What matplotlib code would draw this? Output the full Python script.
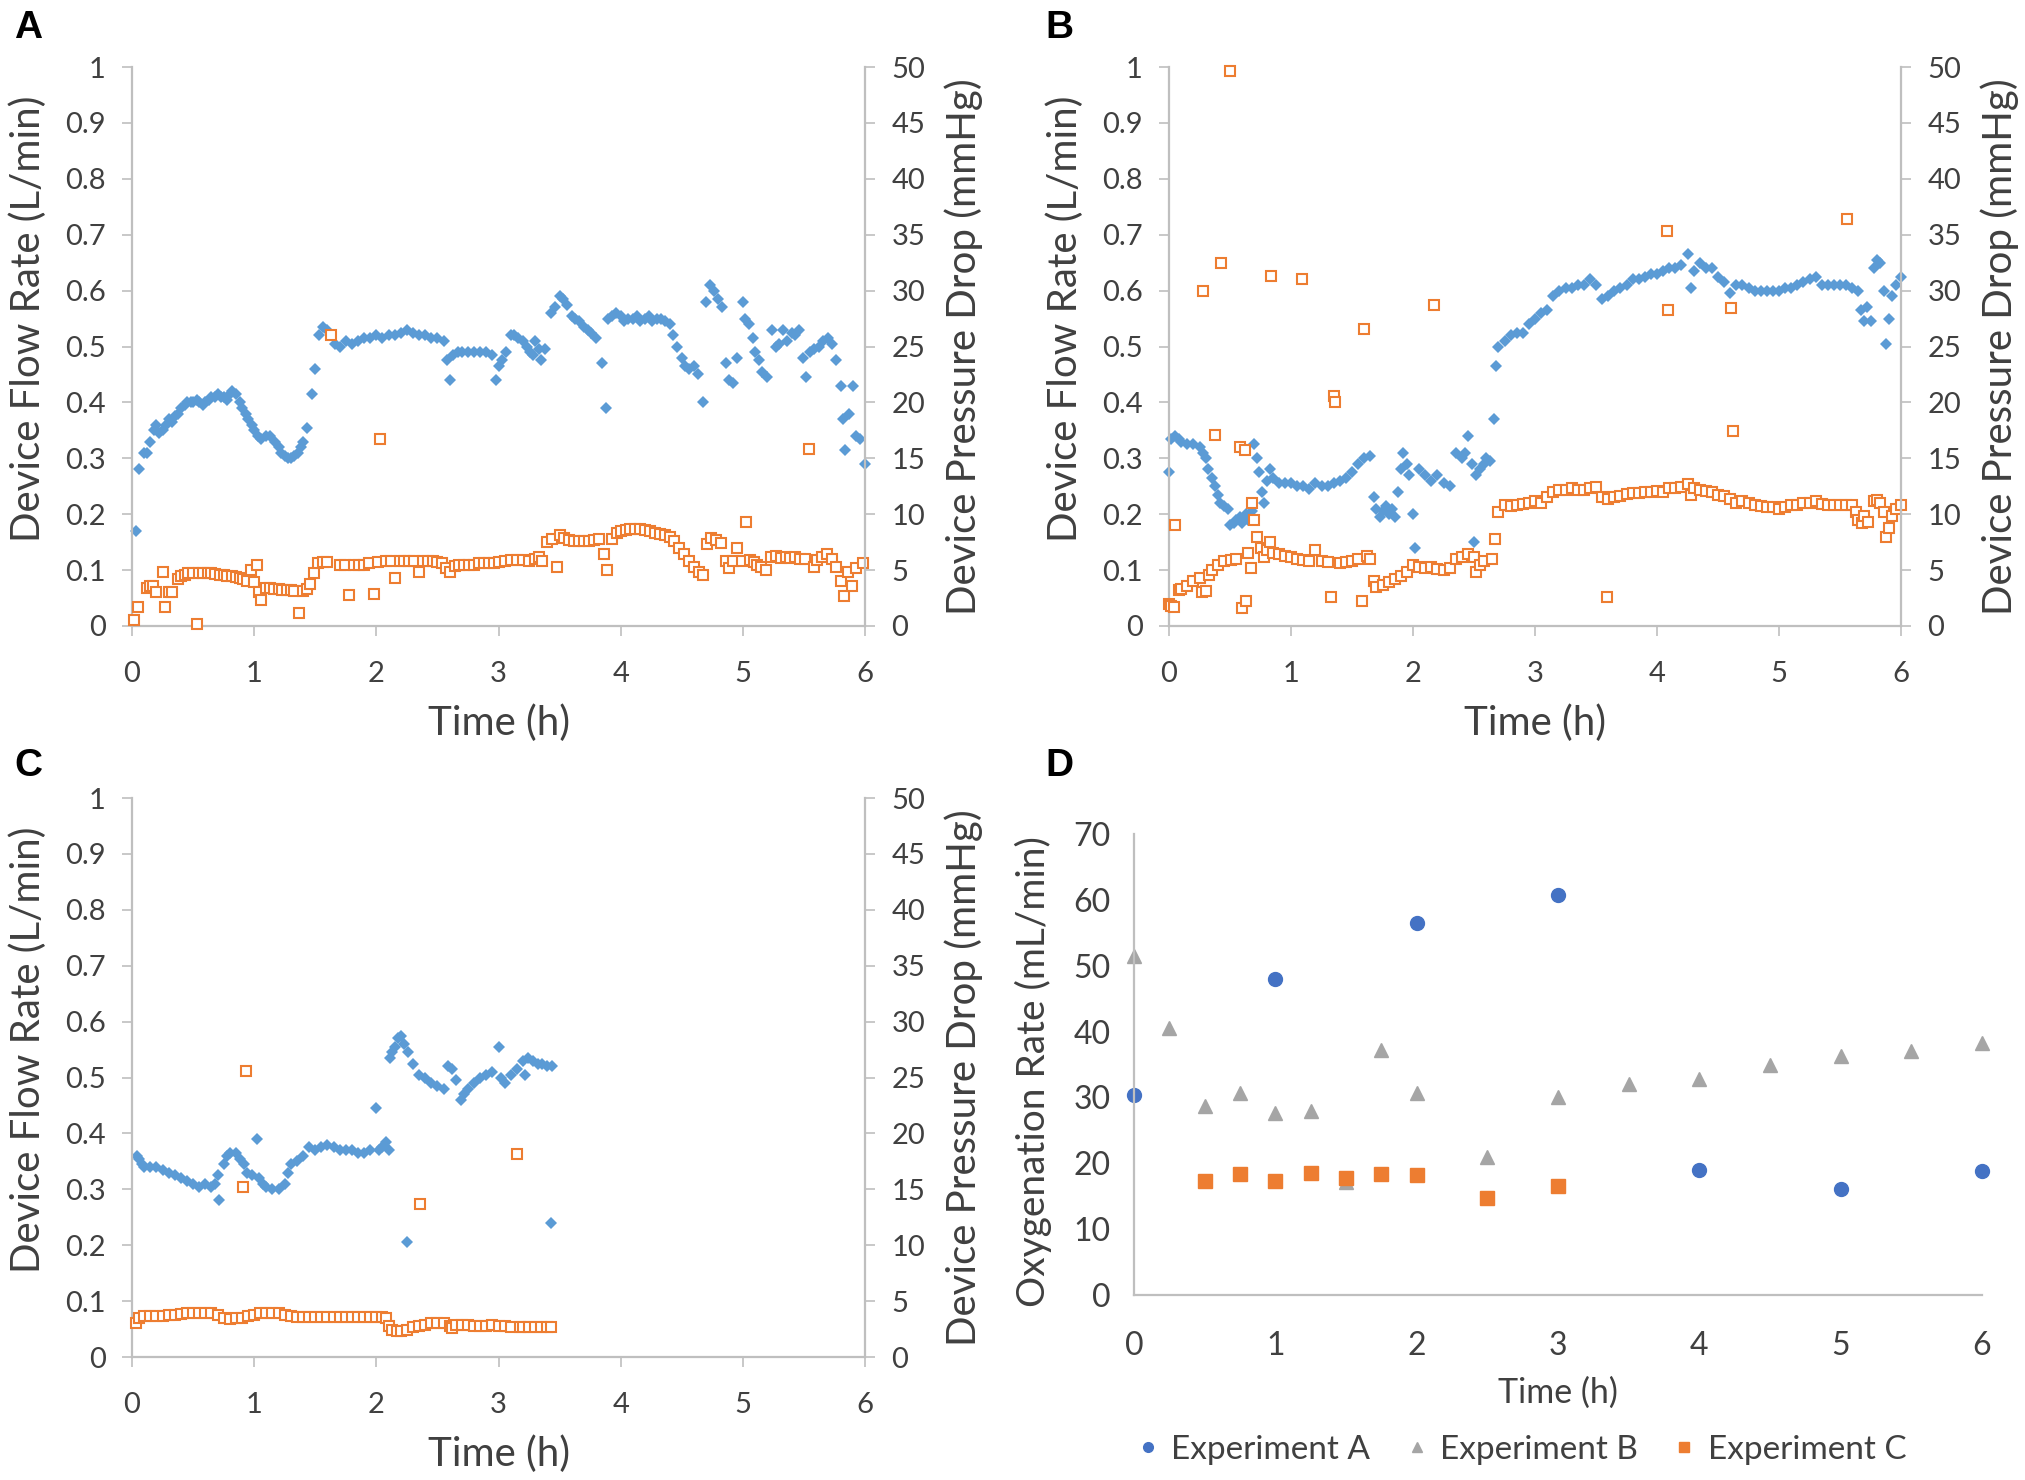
import numpy as np
import matplotlib.pyplot as plt

plt.rcParams['font.family'] = ['Lato', 'DejaVu Sans']

# ---- data: (time h, value) ----
# panel A
a_flow = [(0.03,0.17),(0.06,0.28),(0.10,0.31),(0.12,0.31),(0.15,0.33),(0.18,0.35),(0.20,0.36),(0.22,0.345),(0.25,0.35),(0.28,0.36),
          (0.30,0.37),(0.33,0.365),(0.35,0.375),(0.38,0.38),(0.40,0.39),(0.43,0.395),(0.45,0.40),(0.48,0.40),(0.50,0.40),(0.53,0.405),
          (0.55,0.40),(0.58,0.395),(0.60,0.40),(0.63,0.405),(0.65,0.41),(0.68,0.41),(0.70,0.415),(0.73,0.41),(0.75,0.41),(0.78,0.405),
          (0.80,0.415),(0.82,0.42),(0.85,0.415),(0.88,0.40),(0.90,0.39),(0.93,0.38),(0.95,0.37),(0.98,0.36),(1.00,0.35),(1.03,0.34),
          (1.06,0.335),(1.10,0.34),(1.13,0.34),(1.17,0.33),(1.20,0.32),(1.22,0.31),(1.25,0.305),(1.28,0.30),(1.30,0.30),(1.33,0.305),
          (1.36,0.31),(1.38,0.32),(1.40,0.33),(1.43,0.355),(1.47,0.415),(1.50,0.46),(1.53,0.52),(1.56,0.535),(1.60,0.53),(1.63,0.52),
          (1.66,0.505),(1.70,0.50),(1.75,0.51),(1.80,0.505),(1.85,0.51),(1.90,0.515),(1.95,0.515),(2.00,0.52),(2.05,0.515),(2.10,0.52),
          (2.15,0.52),(2.20,0.525),(2.25,0.53),(2.30,0.525),(2.35,0.52),(2.40,0.52),(2.45,0.515),(2.50,0.515),(2.55,0.51),(2.58,0.475),
          (2.60,0.44),(2.63,0.485),(2.67,0.49),(2.70,0.49),(2.75,0.49),(2.80,0.49),(2.85,0.49),(2.90,0.49),(2.95,0.485),(2.98,0.44),
          (3.00,0.465),(3.03,0.475),(3.06,0.49),(3.10,0.52),(3.13,0.52),(3.16,0.515),(3.20,0.51),(3.23,0.50),(3.26,0.49),(3.28,0.485),
          (3.30,0.51),(3.33,0.495),(3.35,0.475),(3.38,0.495),(3.43,0.56),(3.46,0.57),(3.50,0.59),(3.53,0.585),(3.56,0.575),(3.60,0.555),
          (3.63,0.55),(3.66,0.545),(3.70,0.535),(3.73,0.53),(3.76,0.525),(3.80,0.515),(3.85,0.47),(3.88,0.39),(3.90,0.55),(3.93,0.555),
          (3.96,0.56),(4.00,0.555),(4.03,0.545),(4.06,0.55),(4.10,0.55),(4.13,0.555),(4.16,0.545),(4.20,0.55),(4.23,0.555),(4.26,0.545),
          (4.30,0.55),(4.33,0.55),(4.36,0.545),(4.40,0.54),(4.43,0.52),(4.46,0.50),(4.50,0.48),(4.53,0.465),(4.56,0.46),(4.60,0.465),
          (4.63,0.45),(4.67,0.40),(4.70,0.58),(4.73,0.61),(4.76,0.60),(4.80,0.585),(4.83,0.57),(4.86,0.47),(4.89,0.44),(4.92,0.435),
          (4.95,0.48),(5.00,0.58),(5.02,0.55),(5.05,0.54),(5.08,0.515),(5.10,0.49),(5.13,0.475),(5.16,0.455),(5.20,0.445),(5.24,0.53),
          (5.27,0.50),(5.30,0.505),(5.33,0.53),(5.36,0.51),(5.40,0.525),(5.43,0.52),(5.46,0.53),(5.49,0.48),(5.52,0.445),(5.55,0.49),
          (5.58,0.495),(5.62,0.50),(5.66,0.51),(5.70,0.515),(5.73,0.505),(5.76,0.475),(5.80,0.43),(5.82,0.37),(5.84,0.315),(5.87,0.38),
          (5.90,0.43),(5.93,0.34),(5.96,0.335),(6.00,0.29)]
a_press = [(0.02,0.5),(0.05,1.7),(0.12,3.4),(0.15,3.6),(0.17,3.6),(0.20,3.0),(0.25,4.8),(0.27,1.7),(0.30,3.0),(0.33,3.0),
           (0.38,4.2),(0.40,4.5),(0.43,4.6),(0.46,4.7),(0.50,4.7),(0.53,0.2),(0.55,4.7),(0.58,4.7),(0.62,4.7),(0.65,4.7),
           (0.68,4.65),(0.72,4.6),(0.75,4.6),(0.78,4.5),(0.82,4.45),(0.85,4.4),(0.88,4.3),(0.91,4.2),(0.94,4.0),(0.97,5.0),
           (1.00,3.9),(1.02,5.5),(1.04,3.0),(1.06,2.3),(1.10,3.4),(1.13,3.4),(1.16,3.35),(1.20,3.3),(1.23,3.25),(1.27,3.2),
           (1.30,3.2),(1.33,3.15),(1.37,1.2),(1.40,3.1),(1.43,3.3),(1.46,3.8),(1.49,4.7),(1.52,5.6),(1.56,5.7),(1.60,5.7),
           (1.63,26.0),(1.70,5.5),(1.74,5.5),(1.78,2.8),(1.82,5.5),(1.86,5.5),(1.90,5.5),(1.94,5.6),(1.98,2.9),(2.01,5.7),
           (2.03,16.7),(2.08,5.8),(2.12,5.8),(2.15,4.3),(2.19,5.8),(2.23,5.8),(2.27,5.8),(2.31,5.8),(2.35,4.8),(2.38,5.8),
           (2.42,5.8),(2.46,5.8),(2.50,5.7),(2.54,5.6),(2.57,5.2),(2.60,4.8),(2.64,5.4),(2.68,5.5),(2.72,5.5),(2.76,5.5),
           (2.80,5.5),(2.84,5.6),(2.88,5.6),(2.92,5.6),(2.96,5.6),(3.00,5.7),(3.05,5.8),(3.10,5.9),(3.15,5.9),(3.20,5.9),
           (3.25,5.8),(3.30,6.0),(3.33,6.2),(3.36,5.8),(3.40,7.5),(3.44,7.8),(3.48,5.3),(3.50,8.1),(3.54,7.9),(3.58,7.7),
           (3.62,7.6),(3.66,7.6),(3.70,7.6),(3.74,7.6),(3.78,7.7),(3.82,7.8),(3.86,6.4),(3.89,5.0),(3.93,7.8),(3.97,8.3),
           (4.00,8.5),(4.04,8.6),(4.08,8.7),(4.12,8.7),(4.16,8.7),(4.20,8.6),(4.24,8.5),(4.28,8.3),(4.32,8.2),(4.36,8.1),
           (4.40,8.0),(4.44,7.6),(4.48,7.0),(4.52,6.4),(4.56,5.8),(4.60,5.3),(4.64,4.8),(4.67,4.6),(4.71,7.3),(4.74,7.9),
           (4.78,7.7),(4.82,7.4),(4.86,5.8),(4.89,5.2),(4.92,5.8),(4.95,7.0),(4.99,5.8),(5.03,9.3),(5.06,5.9),(5.09,5.7),
           (5.12,5.5),(5.15,5.3),(5.19,5.0),(5.23,6.2),(5.27,6.3),(5.31,6.1),(5.35,6.2),(5.39,6.1),(5.43,6.2),(5.47,6.0),
           (5.51,6.0),(5.54,15.8),(5.58,5.3),(5.61,5.9),(5.65,6.2),(5.69,6.4),(5.73,6.0),(5.76,5.3),(5.80,4.0),(5.83,2.7),
           (5.86,4.8),(5.89,3.6),(5.93,5.2),(5.98,5.6)]

# panel B
b_flow = [(0.00,0.275),(0.02,0.335),(0.05,0.34),(0.08,0.335),(0.10,0.33),(0.15,0.325),(0.20,0.325),(0.25,0.32),(0.28,0.31),(0.30,0.30),
          (0.32,0.28),(0.35,0.265),(0.38,0.25),(0.40,0.235),(0.42,0.22),(0.45,0.215),(0.48,0.21),(0.50,0.18),(0.53,0.185),(0.55,0.19),
          (0.58,0.195),(0.60,0.185),(0.63,0.20),(0.65,0.19),(0.68,0.205),(0.70,0.325),(0.72,0.30),(0.74,0.275),(0.76,0.24),(0.78,0.22),
          (0.80,0.26),(0.83,0.28),(0.85,0.265),(0.90,0.255),(0.95,0.255),(1.00,0.255),(1.05,0.25),(1.10,0.25),(1.15,0.245),(1.20,0.255),
          (1.25,0.25),(1.30,0.25),(1.35,0.255),(1.40,0.26),(1.45,0.265),(1.50,0.275),(1.55,0.29),(1.60,0.30),(1.65,0.305),(1.68,0.23),
          (1.70,0.21),(1.73,0.195),(1.75,0.205),(1.78,0.215),(1.80,0.20),(1.83,0.21),(1.85,0.195),(1.88,0.24),(1.90,0.28),(1.92,0.31),
          (1.95,0.29),(1.97,0.27),(2.00,0.20),(2.02,0.14),(2.05,0.28),(2.10,0.27),(2.15,0.26),(2.20,0.27),(2.25,0.255),(2.30,0.25),
          (2.35,0.31),(2.40,0.30),(2.43,0.31),(2.45,0.34),(2.48,0.29),(2.50,0.15),(2.52,0.27),(2.55,0.28),(2.58,0.29),(2.60,0.30),
          (2.63,0.295),(2.66,0.37),(2.68,0.465),(2.70,0.50),(2.75,0.51),(2.80,0.52),(2.85,0.525),(2.90,0.525),(2.95,0.54),(3.00,0.55),
          (3.05,0.56),(3.10,0.565),(3.15,0.59),(3.20,0.60),(3.25,0.605),(3.30,0.605),(3.35,0.61),(3.40,0.61),(3.45,0.62),(3.50,0.61),
          (3.55,0.585),(3.60,0.59),(3.65,0.60),(3.70,0.605),(3.75,0.61),(3.80,0.62),(3.85,0.62),(3.90,0.625),(3.95,0.63),(4.00,0.63),
          (4.05,0.635),(4.10,0.64),(4.15,0.64),(4.20,0.645),(4.25,0.665),(4.28,0.605),(4.30,0.635),(4.35,0.65),(4.40,0.64),(4.45,0.64),
          (4.50,0.625),(4.55,0.615),(4.60,0.595),(4.65,0.61),(4.70,0.61),(4.75,0.605),(4.80,0.60),(4.85,0.60),(4.90,0.60),(4.95,0.60),
          (5.00,0.60),(5.05,0.605),(5.10,0.605),(5.15,0.61),(5.20,0.615),(5.25,0.62),(5.30,0.625),(5.35,0.61),(5.40,0.61),(5.45,0.61),
          (5.50,0.61),(5.55,0.61),(5.60,0.605),(5.65,0.60),(5.67,0.565),(5.70,0.545),(5.72,0.57),(5.75,0.545),(5.78,0.64),(5.80,0.655),
          (5.83,0.65),(5.86,0.60),(5.88,0.505),(5.90,0.55),(5.93,0.59),(5.96,0.61),(6.00,0.625)]
b_press = [(0.00,2.0),(0.02,1.8),(0.04,1.7),(0.05,9.0),(0.08,3.2),(0.10,3.3),(0.15,3.6),(0.20,4.0),(0.25,4.3),(0.27,3.0),
           (0.28,30.0),(0.30,3.1),(0.33,4.6),(0.35,5.0),(0.38,17.1),(0.40,5.5),(0.43,32.5),(0.45,5.8),(0.50,49.6),(0.51,5.9),
           (0.55,6.0),(0.58,16.0),(0.60,1.6),(0.62,15.7),(0.63,2.2),(0.65,6.5),(0.67,5.2),(0.68,11.0),(0.70,9.5),(0.72,8.0),
           (0.75,7.0),(0.78,6.2),(0.80,6.8),(0.83,7.5),(0.84,31.3),(0.85,6.5),(0.90,6.4),(0.95,6.3),(1.00,6.2),(1.05,6.0),
           (1.09,31.0),(1.10,5.9),(1.15,5.8),(1.20,6.8),(1.25,5.8),(1.30,5.7),(1.33,2.6),(1.35,20.6),(1.36,20.0),(1.40,5.6),
           (1.45,5.7),(1.50,5.8),(1.55,6.0),(1.58,2.2),(1.60,26.6),(1.62,6.3),(1.65,6.0),(1.68,4.0),(1.70,3.5),(1.75,3.7),
           (1.80,3.9),(1.85,4.2),(1.90,4.5),(1.95,4.8),(2.00,5.5),(2.05,5.3),(2.10,5.2),(2.15,5.3),(2.17,28.7),(2.20,5.1),
           (2.25,5.0),(2.30,5.2),(2.35,6.0),(2.40,6.2),(2.45,6.4),(2.50,6.2),(2.52,4.8),(2.55,5.5),(2.58,5.8),(2.65,6.0),
           (2.67,7.8),(2.70,10.2),(2.75,10.8),(2.80,10.7),(2.85,10.8),(2.90,10.9),(2.95,11.0),(3.00,11.2),(3.05,11.0),(3.10,11.5),
           (3.15,12.0),(3.20,12.2),(3.25,12.2),(3.30,12.3),(3.35,12.2),(3.40,12.2),(3.45,12.3),(3.50,12.4),(3.55,11.5),(3.59,2.6),
           (3.60,11.4),(3.65,11.5),(3.70,11.6),(3.75,11.8),(3.80,11.9),(3.85,11.9),(3.90,12.0),(3.95,12.0),(4.00,12.1),(4.05,12.0),
           (4.08,35.3),(4.09,28.3),(4.10,12.3),(4.15,12.3),(4.20,12.4),(4.25,12.7),(4.28,11.7),(4.30,12.3),(4.35,12.2),(4.40,12.1),
           (4.45,12.0),(4.50,11.7),(4.55,11.6),(4.60,11.4),(4.61,28.4),(4.62,17.4),(4.65,11.0),(4.70,11.2),(4.75,11.0),(4.80,10.8),
           (4.85,10.7),(4.90,10.6),(4.95,10.6),(5.00,10.5),(5.05,10.6),(5.10,10.8),(5.15,10.8),(5.20,11.0),(5.25,11.0),(5.30,11.2),
           (5.35,10.9),(5.40,10.8),(5.45,10.8),(5.50,10.8),(5.55,10.8),(5.56,36.4),(5.60,10.8),(5.63,10.2),(5.65,9.5),(5.68,9.2),
           (5.70,9.8),(5.73,9.3),(5.78,11.2),(5.80,11.3),(5.83,11.0),(5.86,10.2),(5.88,8.0),(5.90,8.8),(5.93,9.8),(5.96,10.5),
           (6.00,10.8)]

# panel C
c_flow = [(0.04,0.36),(0.06,0.355),(0.08,0.345),(0.10,0.34),(0.15,0.34),(0.20,0.34),(0.25,0.335),(0.30,0.33),(0.35,0.325),(0.40,0.32),
          (0.45,0.315),(0.50,0.31),(0.55,0.305),(0.60,0.31),(0.65,0.305),(0.68,0.31),(0.70,0.325),(0.71,0.28),(0.75,0.345),(0.78,0.36),
          (0.80,0.365),(0.85,0.365),(0.88,0.355),(0.92,0.345),(0.94,0.33),(0.98,0.325),(1.02,0.39),(1.04,0.32),(1.07,0.31),(1.10,0.305),
          (1.15,0.30),(1.20,0.30),(1.25,0.31),(1.28,0.33),(1.30,0.345),(1.35,0.35),(1.40,0.36),(1.45,0.375),(1.50,0.37),(1.55,0.375),
          (1.60,0.38),(1.65,0.375),(1.70,0.37),(1.75,0.37),(1.80,0.37),(1.85,0.365),(1.90,0.365),(1.95,0.37),(2.00,0.445),(2.02,0.37),
          (2.05,0.375),(2.08,0.385),(2.10,0.37),(2.11,0.535),(2.13,0.545),(2.15,0.555),(2.18,0.57),(2.20,0.575),(2.23,0.56),(2.25,0.205),
          (2.26,0.545),(2.30,0.525),(2.35,0.505),(2.40,0.50),(2.45,0.49),(2.50,0.485),(2.55,0.48),(2.59,0.52),(2.62,0.515),(2.65,0.495),
          (2.69,0.46),(2.72,0.47),(2.75,0.48),(2.80,0.49),(2.85,0.50),(2.90,0.505),(2.95,0.51),(3.00,0.555),(3.02,0.50),(3.05,0.49),
          (3.10,0.505),(3.15,0.515),(3.20,0.53),(3.22,0.505),(3.24,0.535),(3.28,0.53),(3.32,0.525),(3.36,0.525),(3.40,0.52),(3.43,0.24),
          (3.44,0.52)]
c_press = [(0.03,3.0),(0.06,3.5),(0.10,3.7),(0.15,3.7),(0.20,3.7),(0.25,3.7),(0.30,3.75),(0.35,3.8),(0.40,3.85),(0.45,3.9),
           (0.50,3.9),(0.55,3.95),(0.60,3.95),(0.65,3.9),(0.70,3.8),(0.75,3.5),(0.80,3.4),(0.85,3.45),(0.90,3.5),(0.91,15.2),
           (0.93,25.6),(0.95,3.7),(1.00,3.8),(1.05,3.9),(1.10,3.95),(1.15,3.95),(1.20,3.9),(1.25,3.8),(1.30,3.7),(1.35,3.6),
           (1.40,3.6),(1.45,3.6),(1.50,3.6),(1.55,3.55),(1.60,3.55),(1.65,3.55),(1.70,3.55),(1.75,3.55),(1.80,3.6),(1.85,3.6),
           (1.90,3.6),(1.95,3.6),(2.00,3.6),(2.05,3.6),(2.08,3.5),(2.10,2.8),(2.13,2.4),(2.17,2.3),(2.20,2.3),(2.25,2.4),
           (2.30,2.7),(2.35,2.8),(2.36,13.7),(2.40,2.9),(2.45,3.0),(2.50,3.0),(2.55,3.0),(2.60,2.8),(2.62,2.6),(2.65,2.9),
           (2.70,2.9),(2.75,2.85),(2.80,2.8),(2.85,2.8),(2.90,2.8),(2.95,2.85),(3.00,2.8),(3.05,2.75),(3.10,2.7),(3.15,18.2),
           (3.18,2.65),(3.20,2.7),(3.25,2.65),(3.30,2.65),(3.35,2.65),(3.40,2.65),(3.43,2.65)]

# panel D: oxygenation rate (mL/min)
d_exp_a = [(0, 30.3), (1, 48.0), (2, 56.5), (3, 60.8), (4, 19.0), (5, 16.1), (6, 18.8)]
d_exp_b = [(0, 51.5), (0.25, 40.5), (0.5, 28.7), (0.75, 30.6), (1, 27.7), (1.25, 28.0), (1.5, 17.2), (1.75, 37.2),
           (2, 30.6), (2.5, 21.0), (3, 30.0), (3.5, 32.0), (4, 32.8), (4.5, 35.0), (5, 36.3), (5.5, 37.0), (6, 38.2)]
d_exp_c = [(0.5, 17.3), (0.75, 18.4), (1, 17.3), (1.25, 18.5), (1.5, 17.7), (1.75, 18.3), (2, 18.2), (2.5, 14.8), (3, 16.5)]

flow_ticks = [0, 0.1, 0.2, 0.3, 0.4, 0.5, 0.6, 0.7, 0.8, 0.9, 1]
flow_labels = ['0', '0.1', '0.2', '0.3', '0.4', '0.5', '0.6', '0.7', '0.8', '0.9', '1']
press_ticks = [0, 5, 10, 15, 20, 25, 30, 35, 40, 45, 50]
oxy_ticks = [0, 10, 20, 30, 40, 50, 60, 70]
hours = [0, 1, 2, 3, 4, 5, 6]

BLUE = '#5B9BD5'
ORANGE = '#ED7D31'
GRAY = '#BFBFBF'
TXT = '#404040'

W, H = 2025, 1480
fig = plt.figure(figsize=(W / 100, H / 100), dpi=100)


def box(left, top, right, bottom):
    # pixel box -> figure fraction
    return [left / W, 1 - bottom / H, (right - left) / W, (bottom - top) / H]


def flow_panel(rect, flow, press):
    ax = fig.add_axes(rect)
    ax2 = ax.twinx()
    t, y = np.array(flow).T
    ax.plot(t, y, 'D', color=BLUE, ms=6.3, mew=0, clip_on=False)
    tp, yp = np.array(press).T
    ax2.plot(tp, yp, 's', mfc='white', mec=ORANGE, ms=6.5, mew=1.5, clip_on=False)

    ax.set_xlim(0, 6)
    ax.set_ylim(0, 1)
    ax2.set_ylim(0, 50)
    ax.set_xticks(hours)
    ax.set_yticks(flow_ticks)
    ax.set_yticklabels(flow_labels)
    ax2.set_yticks(press_ticks)

    for a in (ax, ax2):
        for s in a.spines.values():
            s.set_visible(False)
            s.set_color(GRAY)
            s.set_linewidth(1.6)
    ax.spines['left'].set_visible(True)
    ax.spines['bottom'].set_visible(True)
    ax2.spines['right'].set_visible(True)

    ax.tick_params(axis='y', direction='out', length=7, width=1.2, color=GRAY,
                   labelsize=21, labelcolor=TXT, pad=12)
    ax.tick_params(axis='x', direction='out', length=7, width=1.2, color=GRAY,
                   labelsize=21, labelcolor=TXT, pad=18)
    ax2.tick_params(axis='y', direction='out', length=7, width=1.2, color=GRAY,
                    labelsize=21, labelcolor=TXT, pad=12)

    ax.set_ylabel('Device Flow Rate (L/min)', fontsize=29, color=TXT, va='center')
    ax.yaxis.set_label_coords(-0.142, 0.55)
    ax2.set_ylabel('Device Pressure Drop (mmHg)', fontsize=29, color=TXT,
                   rotation=90, va='center')
    ax2.yaxis.set_label_coords(1.135, 0.5)
    ax.set_xlabel('Time (h)', fontsize=29, color=TXT)
    ax.xaxis.label.set_va('center')
    ax.xaxis.set_label_coords(0.5, -0.174)
    return ax


flow_panel(box(132, 67, 865, 626), a_flow, a_press)
flow_panel(box(1169, 67, 1901, 626), b_flow, b_press)
flow_panel(box(132, 798, 865, 1357), c_flow, c_press)

# panel D
axd = fig.add_axes(box(1134, 834, 1982, 1295))
hA, = axd.plot(*np.array(d_exp_a).T, 'o', color='#4472C4', ms=10, clip_on=False)
hB, = axd.plot(*np.array(d_exp_b).T, '^', color='#A5A5A5', ms=10, clip_on=False)
hC, = axd.plot(*np.array(d_exp_c).T, 's', color=ORANGE, ms=9.5, clip_on=False)
axd.set_xlim(0, 6)
axd.set_ylim(0, 70)
axd.set_xticks(hours)
axd.set_yticks(oxy_ticks)
for name, s in axd.spines.items():
    s.set_color(GRAY)
    s.set_linewidth(1.6)
    s.set_visible(name in ('left', 'bottom'))
axd.tick_params(axis='y', length=0, labelsize=23, labelcolor=TXT, pad=17)
axd.tick_params(axis='x', length=0, labelsize=23, labelcolor=TXT, pad=26)
axd.set_ylabel('Oxygenation Rate (mL/min)', fontsize=28, color=TXT, va='center')
axd.yaxis.set_label_coords(-0.119, 0.484)
axd.set_xlabel('Time (h)', fontsize=24.5, color=TXT)
axd.xaxis.label.set_va('center')
axd.xaxis.set_label_coords(0.5, -0.213)
fig.legend([hA, hB, hC], ['Experiment A', 'Experiment B', 'Experiment C'],
           loc='center', bbox_to_anchor=(1522 / W, 1 - 1450 / H), ncol=3,
           frameon=False, fontsize=24, labelcolor=TXT, markerscale=0.7,
           handlelength=0.6, handletextpad=0.4, columnspacing=1.1)

# panel letters
for letter, (px, py) in zip('ABCD', [(28, 28), (1059, 28), (28, 766), (1059, 766)]):
    fig.text(px / W, 1 - py / H, letter, fontsize=28, fontweight='bold',
             family='Liberation Sans', ha='center', va='center', color='black')

fig.savefig('out.png', dpi=100)
